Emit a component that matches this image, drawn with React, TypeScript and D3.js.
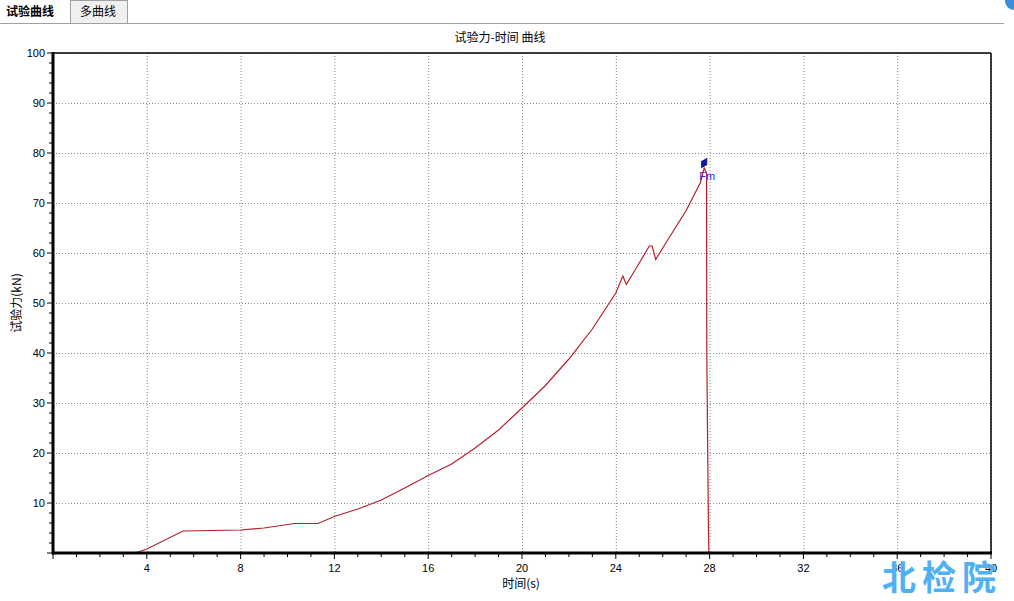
import React from "react";
import * as d3 from "d3";

const timeS = [0, 3.5, 4, 5.55, 8, 9, 10.3, 11.3, 12, 13, 14, 15, 16, 17, 18, 19, 20, 21, 22, 23, 24, 24.3, 24.45, 25, 25.43, 25.55, 25.7, 26, 27, 27.6, 27.77, 27.87, 27.88, 27.95, 27.97];
const forceKN = [0, 0, 0.8, 4.4, 4.6, 5.0, 5.9, 5.9, 7.3, 8.8, 10.6, 13, 15.5, 17.8, 21, 24.6, 29, 33.5, 38.8, 44.8, 52, 55.4, 53.7, 58, 61.4, 61.4, 58.7, 61, 68.5, 74, 77, 76, 40, 5, 0];
const xTicks = [4, 8, 12, 16, 20, 24, 28, 32, 36, 40];
const yTicks = [10, 20, 30, 40, 50, 60, 70, 80, 90, 100];
const peak = { t: 27.77, f: 78, label: "Fm" };

const W = 1014, H = 601;
const m = { left: 53, right: 991, top: 53, bottom: 553 };

export default function App() {
  const x = d3.scaleLinear().domain([0, 40]).range([m.left, m.right]);
  const y = d3.scaleLinear().domain([0, 100]).range([m.bottom, m.top]);
  const pts = timeS.map((t, i) => [t, forceKN[i]] as [number, number]);
  const line = d3.line<[number, number]>().x(d => x(d[0])).y(d => y(d[1]));
  const xMinor = d3.range(0, 41, 1);
  const yMinor = d3.range(0, 101, 2);
  const numFont = "'Liberation Sans', Arial, sans-serif";
  const cjk = "'Noto Sans CJK SC', sans-serif";
  return (
    <svg width={W} height={H} style={{ position: "absolute", left: 0, top: 0, background: "#fff" }}>
      <rect x={0} y={0} width={W} height={H} fill="#fff" />
      {/* tabs */}
      <text x={6} y={16} fontFamily={cjk} fontSize={12} fontWeight="bold" fill="#000">试验曲线</text>
      <rect x={70.5} y={0.5} width={57} height={23} fill="#f0f0f0" stroke="#a0a0a0" />
      <text x={80} y={16} fontFamily={cjk} fontSize={12} fill="#000">多曲线</text>
      <line x1={0} x2={1004} y1={23.5} y2={23.5} stroke="#a0a0a0" />
      <circle cx={1014} cy={1} r={9} fill="#3a8ee0" />
      {/* title */}
      <text x={500} y={42} textAnchor="middle" fontFamily={cjk} fontSize={12} fill="#000">试验力-时间 曲线</text>
      {/* grid */}
      {xTicks.map(t => (
        <line key={"gx" + t} x1={x(t) + 0.5} x2={x(t) + 0.5} y1={m.top} y2={m.bottom} stroke="#888" strokeDasharray="1,2" />
      ))}
      {yTicks.map(t => (
        <line key={"gy" + t} x1={m.left} x2={m.right} y1={y(t) + 0.5} y2={y(t) + 0.5} stroke="#888" strokeDasharray="1,2" />
      ))}
      {/* curve */}
      <path d={line(pts) || ""} fill="none" stroke="#b4202c" strokeWidth={1.2} />
      {/* frame */}
      <line x1={m.left} x2={m.right} y1={m.top} y2={m.top} stroke="#000" strokeWidth={1.5} />
      <line x1={m.right} x2={m.right} y1={m.top} y2={m.bottom} stroke="#000" strokeWidth={1.5} />
      <line x1={m.left} x2={m.left} y1={m.top - 1} y2={m.bottom + 1.5} stroke="#000" strokeWidth={3} />
      <line x1={m.left} x2={m.right + 1} y1={m.bottom} y2={m.bottom} stroke="#000" strokeWidth={3} />
      {/* x ticks */}
      {xMinor.map(t => (
        <line key={"xm" + t} x1={x(t)} x2={x(t)} y1={m.bottom} y2={m.bottom + (t % 4 === 0 ? 6 : 4)} stroke="#000" strokeWidth={1} />
      ))}
      {xTicks.map(t => (
        <text key={"xl" + t} x={x(t)} y={m.bottom + 19} textAnchor="middle" fontFamily={numFont} fontSize={11} fill="#000">{t}</text>
      ))}
      {/* y ticks */}
      {yMinor.map(t => (
        <line key={"ym" + t} x1={m.left - (t % 10 === 0 ? 6 : 4)} x2={m.left} y1={y(t)} y2={y(t)} stroke="#000" strokeWidth={1} />
      ))}
      {yTicks.map(t => (
        <text key={"yl" + t} x={m.left - 8} y={y(t) + 4} textAnchor="end" fontFamily={numFont} fontSize={11} fill="#000">{t}</text>
      ))}
      {/* peak marker */}
      <path d={d3.symbol().type(d3.symbolDiamond).size(30)() || ""} transform={`translate(${x(peak.t)},${y(peak.f)}) rotate(30)`} fill="#1a1aa8" stroke="#10108a" />
      <text x={x(peak.t) - 5} y={y(peak.f) + 17} fontFamily={numFont} fontSize={11} fill="#2a2ae0">{peak.label}</text>
      {/* axis labels */}
      <text x={521} y={588} textAnchor="middle" fontFamily={cjk} fontSize={12} fill="#000">时间(s)</text>
      <text transform={`translate(21,${303}) rotate(-90)`} textAnchor="middle" fontFamily={cjk} fontSize={12} fill="#000">试验力(kN)</text>
      {/* watermark */}
      <text x={942} y={590} textAnchor="middle" fontFamily={cjk} fontSize={34} fontWeight="bold" fill="#4fb0f5" letterSpacing={6}>北检院</text>
    </svg>
  );
}
